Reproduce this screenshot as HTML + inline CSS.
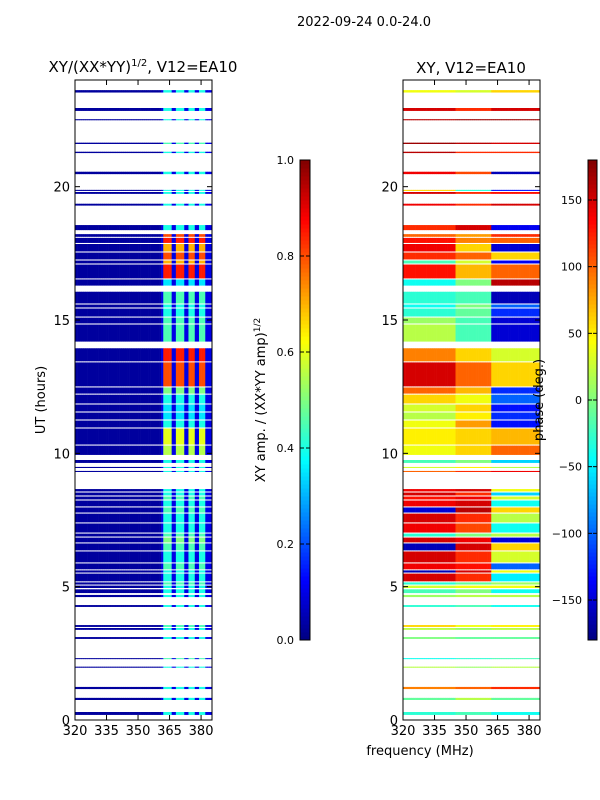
<!DOCTYPE html>
<html><head><meta charset="utf-8">
<style>
html,body{margin:0;padding:0;background:#fff;}
svg{display:block;font-family:"DejaVu Sans","Liberation Sans",sans-serif;}
</style></head>
<body>
<svg id="fig" width="600" height="800" viewBox="0 0 600 800" xmlns="http://www.w3.org/2000/svg">
  <rect width="600" height="800" fill="#fff"/>
  <text x="364" y="26" font-size="13" text-anchor="middle">2022-09-24 0.0-24.0</text>
  <text x="143" y="72" font-size="15" text-anchor="middle">XY/(XX*YY)<tspan font-size="10" dy="-6">1/2</tspan><tspan dy="6">, V12=EA10</tspan></text>
  <text x="471" y="73" font-size="15" text-anchor="middle">XY, V12=EA10</text>
  <g id="leftCells"></g>
  <g id="rightCells"></g>
  <g id="axes"></g>
  <text transform="translate(45,400) rotate(-90)" font-size="13" text-anchor="middle">UT (hours)</text>
  <text x="420" y="755" font-size="13" text-anchor="middle">frequency (MHz)</text>
  <text transform="translate(265,400) rotate(-90)" font-size="13" text-anchor="middle">XY amp. / (XX*YY amp)<tspan font-size="9" dy="-5">1/2</tspan></text>
  <text transform="translate(543,400) rotate(-90)" font-size="13" text-anchor="middle">phase (deg.)</text>
</svg>
<script>
// ---- data ----
const rowStart = [23.53,22.84,22.49,21.60,21.26,20.47,19.84,19.73,19.29,
 18.37,18.12,17.89,17.57,17.27,17.12,16.56,16.29,15.62,15.47,15.13,14.87,14.19,13.45,12.51,12.24,11.87,11.57,11.27,10.97,10.33,9.94,
 9.64,9.45,9.30,
 8.57,8.42,8.27,8.01,7.78,7.41,7.03,6.88,6.66,6.36,5.91,5.65,5.53,5.20,5.08,4.95,
 4.76,4.61,4.24,3.49,3.38,3.04,2.29,1.96,1.16,0.75,0.19];
const rowEnd = [23.62,22.95,22.53,21.65,21.31,20.56,19.88,19.80,19.36,
 18.56,18.22,18.08,17.85,17.53,17.23,17.08,16.52,16.06,15.58,15.43,15.09,14.83,13.94,13.41,12.47,12.20,11.83,11.53,11.23,10.93,10.29,
 9.75,9.49,9.34,
 8.66,8.53,8.38,8.23,7.97,7.74,7.37,6.99,6.84,6.62,6.32,5.87,5.61,5.49,5.16,5.04,
 4.90,4.69,4.31,3.56,3.45,3.11,2.32,2.00,1.24,0.83,0.30];
const ampSub = [0.40,0.40,0.40,0.45,0.40,0.40,0.40,0.40,0.40,
 0.40,0.80,0.85,0.70,0.80,0.70,0.85,0.35,0.45,0.40,0.40,0.45,0.45,0.85,0.80,0.50,0.40,0.35,0.35,0.40,0.60,0.55,
 0.40,0.40,0.40,
 0.40,0.40,0.45,0.40,0.45,0.40,0.40,0.45,0.50,0.45,0.40,0.45,0.40,0.40,0.45,0.40,
 0.40,0.40,0.40,0.45,0.40,0.40,0.45,0.40,0.40,0.40,0.40];
const phaseA = [40,150,160,170,160,140,60,150,140,
 120,100,130,140,120,-20,130,-40,-30,-40,-30,10,20,90,150,100,60,30,20,40,50,40,
 -20,30,100,
 140,150,130,140,-150,150,140,-30,150,-160,150,140,-160,150,-30,30,
 -20,10,-30,60,20,0,-40,20,90,-10,-30];
const phaseB = [30,120,170,160,120,110,-30,120,120,
 150,80,90,60,100,30,70,0,-20,0,-10,-20,-20,60,100,70,40,60,50,80,60,60,
 0,50,120,
 150,120,140,150,160,120,110,0,140,150,120,130,150,120,-10,40,
 0,20,-20,40,10,-10,-30,10,100,20,-20];
const phaseC = [60,150,170,150,120,-160,-130,130,150,
 -140,120,100,-150,60,-140,100,160,-160,-100,-120,-150,-150,30,60,-120,-100,-130,-120,-130,70,100,
 -60,20,140,
 40,-60,30,-40,60,20,-40,20,-150,60,30,-100,40,-50,10,40,
 -40,20,-40,50,20,-10,-20,20,120,-10,-40];
const xTicks = [320,335,350,365,380];
const yTicks = [0,5,10,15,20];
const ampTicks = [0.0,0.2,0.4,0.6,0.8,1.0];
const phaseTicks = [150,100,50,0,-50,-100,-150];

// ---- scales ----
const yTop=80, yBot=720, tMax=24;
const yS = t => yBot - t*(yBot-yTop)/tMax;
const fMin=320, fMax=385.2;
const xL = f => 75 + (f-fMin)*(212-75)/(fMax-fMin);
const xR = f => 403 + (f-fMin)*(540-403)/(fMax-fMin);
function jet(v){
  v=Math.max(0,Math.min(1,v));
  const c=x=>Math.round(255*Math.max(0,Math.min(1,x)));
  return `rgb(${c(1.5-Math.abs(4*v-3))},${c(1.5-Math.abs(4*v-2))},${c(1.5-Math.abs(4*v-1))})`;
}
const NS="http://www.w3.org/2000/svg";
function mk(tag,attrs,parent){const e=document.createElementNS(NS,tag);for(const k in attrs)e.setAttribute(k,attrs[k]);parent.appendChild(e);return e;}
const subBands=[[362,366.5],[368,372.5],[374,377.5],[379,382.5]];
function ampAt(i,f){
  for(const b of subBands){if(f>=b[0]&&f<b[1])return ampSub[i];}
  if(f>=361)return 0.1;
  return 0.03;
}
function phaseAt(i,f){ if(f<345)return phaseA[i]; if(f<362)return phaseB[i]; return phaseC[i]; }
const L=document.getElementById('leftCells'), R=document.getElementById('rightCells');
for(let i=0;i<rowStart.length;i++){
  const y0=yS(rowEnd[i]), y1=yS(rowStart[i]), h=Math.max(1,y1-y0);
  for(let f=fMin;f<fMax;f+=1){
    const f1=Math.min(f+1,fMax);
    const a=mk('rect',{x:xL(f),y:y0,width:xL(f1)-xL(f)+0.3,height:h,fill:jet(ampAt(i,f+0.5))},L);
    
    
    const p=mk('rect',{x:xR(f),y:y0,width:xR(f1)-xR(f)+0.3,height:h,fill:jet((phaseAt(i,f+0.5)+180)/360)},R);
    
    
  }
}
// ---- axes ----
const A=document.getElementById('axes');
function frame(x0,x1,xs,name){
  const g=mk('g',{},A);
  
  
  mk('rect',{x:x0,y:yTop,width:x1-x0,height:yBot-yTop,fill:'none',stroke:'#000','stroke-width':1},g);
  xTicks.forEach(v=>{
    const x=xs(v);
    mk('line',{x1:x,x2:x,y1:yBot,y2:yBot-5,stroke:'#000'},g);
    mk('line',{x1:x,x2:x,y1:yTop,y2:yTop+5,stroke:'#000'},g);
    const t=mk('text',{x:x,y:yBot+15,'font-size':13,'text-anchor':'middle'},g);
    t.textContent=v;
    
    
  });
  yTicks.forEach(v=>{
    const y=yS(v);
    mk('line',{x1:x0,x2:x0+5,y1:y,y2:y,stroke:'#000'},g);
    mk('line',{x1:x1,x2:x1-5,y1:y,y2:y,stroke:'#000'},g);
    const t=mk('text',{x:x0-5,y:y+5,'font-size':13,'text-anchor':'end'},g);
    t.textContent=v;
    
    
  });
}
frame(75,212,xL,'left-axes');
frame(403,540,xR,'right-axes');
// ---- colorbars ----
function colorbar(x0,w,vmin,vmax,ticks,fmt,name){
  const g=mk('g',{},A);
  
  
  const n=120,top=160,bot=640;
  for(let k=0;k<n;k++){
    const v=(k+0.5)/n;
    const r=mk('rect',{x:x0,y:bot-(k+1)*(bot-top)/n,width:w,height:(bot-top)/n+0.5,fill:jet(v)},g);
    
    
  }
  mk('rect',{x:x0,y:top,width:w,height:bot-top,fill:'none',stroke:'#000'},g);
  ticks.forEach(v=>{
    const y=bot-(v-vmin)/(vmax-vmin)*(bot-top);
    mk('line',{x1:x0+w-4,x2:x0+w,y1:y,y2:y,stroke:'#000'},g);
    mk('line',{x1:x0,x2:x0+4,y1:y,y2:y,stroke:'#000'},g);
    const t=mk('text',{x:x0-6,y:y+4,'font-size':11,'text-anchor':'end'},g);
    t.textContent=fmt(v);
    
    
  });
}
colorbar(300,10,0,1,ampTicks,v=>v.toFixed(1),'amp-colorbar');
colorbar(588,9,-180,180,phaseTicks,v=>v<0?'\u2212'+(-v):String(v),'phase-colorbar');
</script>
</body></html>
